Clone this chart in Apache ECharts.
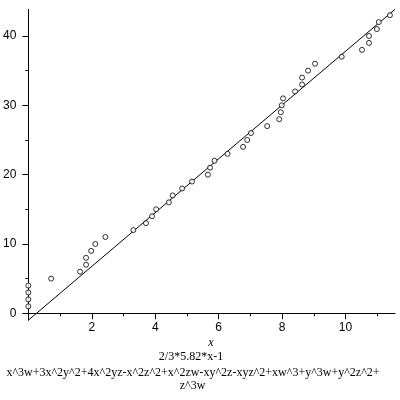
<!DOCTYPE html>
<html>
<head>
<meta charset="utf-8">
<script src="https://cdn.jsdelivr.net/npm/echarts@6/dist/echarts.min.js"></script>
<style>html,body{margin:0;padding:0;background:#fff}#c{width:400px;height:400px}</style>
</head>
<body>
<div id="c"></div>
<script>
// Data points (x, y)
const pointX = [0, 0, 0, 0, 0.72, 1.63, 1.82, 1.82, 1.98, 2.11, 2.43, 3.31, 3.71, 3.90, 4.03, 4.43, 4.55, 4.85, 5.16, 5.66, 5.73, 5.87, 6.28, 6.77, 6.90, 7.02, 7.53, 7.91, 7.96, 7.99, 8.03, 8.41, 8.63, 8.63, 8.82, 9.04, 9.88, 10.52, 10.74, 10.74, 10.99, 11.05, 11.40];
const pointY = [1, 2, 3, 4, 5, 6, 7, 8, 9, 10, 11, 12, 13, 14, 15, 16, 17, 18, 19, 20, 21, 22, 23, 24, 25, 26, 27, 28, 29, 30, 31, 32, 33, 34, 35, 36, 37, 38, 39, 40, 41, 42, 43];
// Fitted line endpoints: 2/3*5.82*x-1
const lineX = [0, 11.56];
const lineY = [-1, 43.85];
// Axis ticks
const xMajorTicks = [2, 4, 6, 8, 10];
const xMinorTicks = [1, 3, 5, 7, 9, 11];
const yMajorTicks = [0, 10, 20, 30, 40];
const yMinorTicks = [5, 15, 25, 35];
const xRange = [0, 11.56];
const yRange = [-1, 43.85];
// Texts
const xLabel = 'x';
const captionLines = ['2/3*5.82*x-1', 'x^3w+3x^2y^2+4x^2yz-x^2z^2+x^2zw-xy^2z-xyz^2+xw^3+y^3w+y^2z^2+', 'z^3w'];

const chart = echarts.init(document.getElementById('c'), null, {renderer: 'canvas'});
const black = '#000';
const tickFont = {color: black, fontFamily: 'Liberation Sans', fontSize: 12};

const option = {
  animation: false,
  backgroundColor: '#fff',
  grid: {left: 28.2, right: 5, top: 9.3, bottom: 79.8, containLabel: false},
  xAxis: [
    {
      type: 'value', position: 'bottom', min: xRange[0], max: xRange[1],
      axisLine: {show: true, onZero: true, onZeroAxisIndex: 0, lineStyle: {color: black, width: 1}},
      axisTick: {show: true, customValues: xMajorTicks, length: 6, lineStyle: {color: black}},
      axisLabel: Object.assign({show: true, customValues: xMajorTicks, margin: 1}, tickFont),
      splitLine: {show: false}
    },
    {
      type: 'value', position: 'bottom', min: xRange[0], max: xRange[1],
      axisLine: {show: false, onZero: true, onZeroAxisIndex: 0},
      axisTick: {show: true, customValues: xMinorTicks, length: 3, lineStyle: {color: black}},
      axisLabel: {show: false},
      splitLine: {show: false}
    }
  ],
  yAxis: [
    {
      type: 'value', position: 'left', min: yRange[0], max: yRange[1],
      axisLine: {show: true, onZero: false, lineStyle: {color: black, width: 1}},
      axisTick: {show: true, customValues: yMajorTicks, length: 6, lineStyle: {color: black}},
      axisLabel: Object.assign({show: true, customValues: yMajorTicks, margin: 12}, tickFont),
      splitLine: {show: false}
    },
    {
      type: 'value', position: 'left', min: yRange[0], max: yRange[1],
      axisLine: {show: false, onZero: false},
      axisTick: {show: true, customValues: yMinorTicks, length: 3, lineStyle: {color: black}},
      axisLabel: {show: false},
      splitLine: {show: false}
    }
  ],
  series: [
    {
      type: 'line', xAxisIndex: 0, yAxisIndex: 0,
      data: lineX.map((x, i) => [x, lineY[i]]),
      showSymbol: false, symbol: 'none',
      lineStyle: {color: black, width: 1},
      z: 2
    },
    {
      type: 'scatter', xAxisIndex: 0, yAxisIndex: 0,
      data: pointX.map((x, i) => [x, pointY[i]]),
      symbol: 'circle', symbolSize: 5,
      itemStyle: {color: '#fff', borderColor: black, borderWidth: 1},
      z: 3
    }
  ],
  graphic: [
    {type: 'text', x: 211, y: 343, style: {text: xLabel, fill: black, font: 'italic 12px "Liberation Serif"', align: 'center', verticalAlign: 'middle'}},
    {type: 'text', x: 191, y: 357, style: {text: captionLines[0], fill: black, font: '12px "Liberation Serif"', align: 'center', verticalAlign: 'middle'}},
    {type: 'text', x: 193, y: 373, style: {text: captionLines[1], fill: black, font: '12px "Liberation Serif"', align: 'center', verticalAlign: 'middle'}},
    {type: 'text', x: 192.5, y: 386, style: {text: captionLines[2], fill: black, font: '12px "Liberation Serif"', align: 'center', verticalAlign: 'middle'}}
  ]
};
chart.setOption(option);
</script>
</body>
</html>
